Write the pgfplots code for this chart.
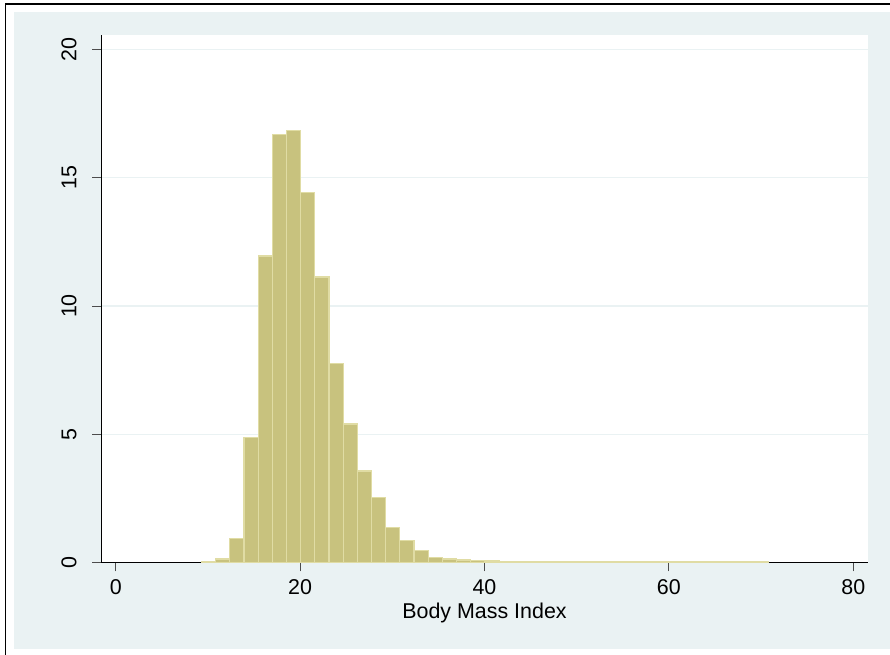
\documentclass[border=0pt]{standalone}
\usepackage{pgfplots}
\pgfplotsset{compat=1.18}
\usepackage{fontspec}
\setmainfont{Liberation Sans}
\definecolor{bg}{RGB}{234,242,243}
\definecolor{barfill}{RGB}{200,194,126}
\definecolor{barline}{RGB}{224,220,164}
\pgfplotstableread{
x y
9.30 0.04
10.84 0.14
12.37 0.94
13.91 4.87
15.45 11.95
16.99 16.70
18.52 16.84
20.06 14.44
21.60 11.13
23.13 7.77
24.67 5.40
26.21 3.57
27.74 2.52
29.28 1.38
30.82 0.85
32.36 0.46
33.89 0.19
35.43 0.14
36.97 0.10
38.50 0.09
40.04 0.06
41.58 0.05
43.11 0.05
44.65 0.04
46.19 0.03
47.72 0.05
49.26 0.03
50.80 0.03
52.33 0.02
53.87 0.02
55.41 0.02
56.95 0.02
58.48 0.02
60.02 0.02
61.56 0.02
63.09 0.02
64.63 0.02
66.17 0.02
67.70 0.02
69.24 0.02
70.78 0
}\bmidata
\begin{document}
\begin{tikzpicture}
\useasboundingbox (0,0) rectangle (890bp,655bp);
\fill[bg] (14bp,6bp) rectangle (890bp,643bp);
\draw[black, line width=1.2bp] (5.5bp,0) -- (5.5bp,651bp) -- (890bp,651bp);
\begin{axis}[at={(101bp,92.5bp)}, anchor=south west, scale only axis,
  width=767bp, height=527.5bp,
  xmin=-1.6, xmax=81.6, ymin=0, ymax=20.57,
  axis lines*=left, axis line style={-, black, line width=0.9bp},
  axis background/.style={fill=white},
  xtick={0,20,40,60,80}, ytick={0,5,10,15,20},
  tick align=outside, major tick length=9bp,
  tick style={black!70, line width=0.9bp},
  ymajorgrids, grid style={bg, line width=1.3bp},
  /pgf/number format/assume math mode=true,
  tick label style={font=\fontsize{21.5}{25}\selectfont},
  yticklabel style={rotate=90, anchor=south},
  yticklabel shift=12bp,
  xticklabel shift=5bp,
  xlabel={Body Mass Index},
  xlabel style={font=\fontsize{21.5}{25}\selectfont, yshift=-1bp},
]
\addplot[ybar interval, fill=barfill, draw=barline, line width=1.2bp] table[x=x, y=y] {\bmidata};
\end{axis}
\end{tikzpicture}
\end{document}
